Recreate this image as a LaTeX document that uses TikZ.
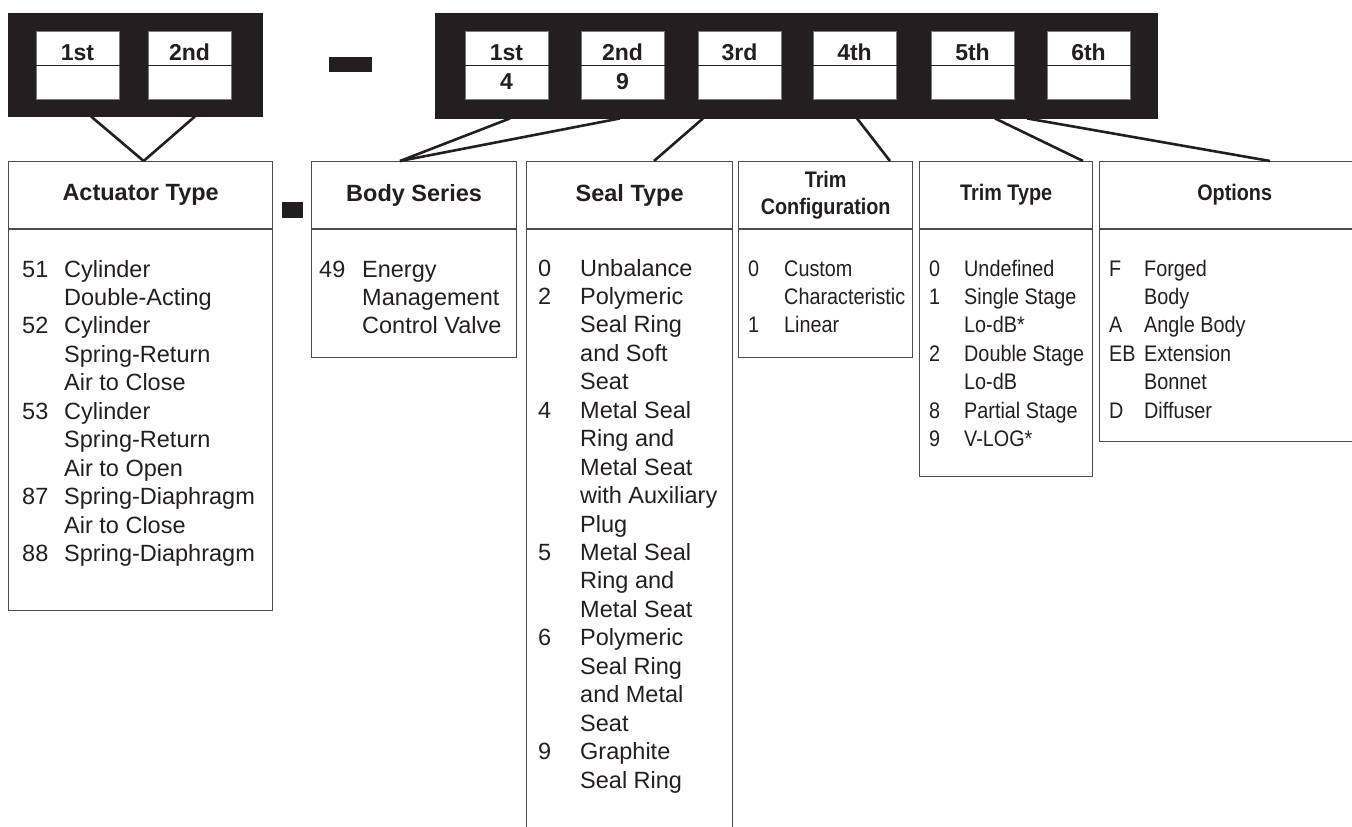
\documentclass[tikz,border=0pt]{standalone}
\usepackage{fontspec}
\usepackage{array}
\setmainfont{Liberation Sans}
\newfontfamily\slimfont{Liberation Sans}[FakeStretch=0.88]
\definecolor{ink}{RGB}{35,31,32}

\begin{document}
\begin{tikzpicture}[x=1pt,y=-1pt,
  every node/.style={text=ink, inner sep=0pt},
  codebar/.style={fill=ink, draw=ink, anchor=north west},
  cell/.style={fill=white, draw=ink!60, line width=0.8pt, minimum width=83pt, minimum height=68pt, anchor=north west},
  celltext/.style={font=\fontsize{23}{27}\selectfont\bfseries, anchor=base},
  listbox/.style={draw=ink!80, line width=1.3pt, anchor=north west},
  rule/.style={draw=ink!80, line width=1.3pt},
  title/.style={font=\fontsize{23.5}{27}\selectfont\bfseries, align=center},
  slimtitle/.style={font=\slimfont\fontsize{22.5}{27}\selectfont\bfseries, align=center},
  entries/.style={font=\fontsize{23.5}{28.45}\selectfont, anchor=base west},
  slimentries/.style={font=\slimfont\fontsize{22.5}{28.45}\selectfont, anchor=base west},
  link/.style={draw=ink, line width=2.6pt}]
\useasboundingbox (0,0) rectangle (1352,827);

% Code blocks
\node[codebar, minimum width=254pt, minimum height=103pt] (lhs) at (8,13) {};
\node[codebar, minimum width=722pt, minimum height=105pt] (rhs) at (435,13) {};
\node[codebar, minimum width=42pt, minimum height=14pt] (dash1) at (329,57) {};
\node[codebar, minimum width=20pt, minimum height=15pt] (dash2) at (282,202) {};

\foreach \x/\lab [count=\i] in {36/1st, 148/2nd} {
  \node[cell] (l\i) at (\x,31) {};
  \draw[ink, line width=1.2pt] (l\i.west) -- (l\i.east);
  \node[celltext] (l\i-top) at (\x+41.5,60) {\lab};
}
\foreach \x/\lab/\val [count=\i] in {465/1st/4, 581/2nd/9, 698/3rd/{}, 813/4th/{}, 931/5th/{}, 1047/6th/{}} {
  \node[cell] (r\i) at (\x,31) {};
  \draw[ink, line width=1.2pt] (r\i.west) -- (r\i.east);
  \node[celltext] (r\i-top) at (\x+41.5,60) {\lab};
  \node[celltext] (r\i-bot) at (\x+41.5,89) {\val};
}

% Boxes
\node[listbox, minimum width=264pt, minimum height=449pt] (act) at (8,161) {};
\node[listbox, minimum width=205pt, minimum height=196pt] (body) at (311,161) {};
\node[listbox, minimum width=206pt, minimum height=690pt] (seal) at (526,161) {};
\node[listbox, minimum width=174pt, minimum height=196pt] (trimc) at (738,161) {};
\node[listbox, minimum width=173pt, minimum height=315pt] (trimt) at (919,161) {};
\node[listbox, minimum width=270pt, minimum height=280pt] (opts) at (1099,161) {};

\foreach \b in {act, body, seal, trimc, trimt, opts}
  \draw[rule] ([yshift=-68pt]\b.north west) -- ([yshift=-68pt]\b.north east);

\node[title] (act-title) at ([yshift=-34pt]act.north) {Actuator Type};
\node[title] (body-title) at ([yshift=-34pt]body.north) {Body Series};
\node[title] (seal-title) at ([yshift=-34pt]seal.north) {Seal Type};
\node[slimtitle] (trimc-title) at ([yshift=-34pt]trimc.north) {Trim\\Configuration};
\node[slimtitle] (trimt-title) at ([yshift=-34pt]trimt.north) {Trim Type};
\node[slimtitle] (opts-title) at ([yshift=-34pt]opts.north) {Options};

% Entries
\node[entries] (act-list) at (22,277) {\begin{tabular}[t]{@{}p{42pt}@{}l@{}}
51 & Cylinder\\ & Double-Acting\\
52 & Cylinder\\ & Spring-Return\\ & Air to Close\\
53 & Cylinder\\ & Spring-Return\\ & Air to Open\\
87 & Spring-Diaphragm\\ & Air to Close\\
88 & Spring-Diaphragm
\end{tabular}};
\node[entries] (body-list) at (319,277) {\begin{tabular}[t]{@{}p{43pt}@{}l@{}}
49 & Energy\\ & Management\\ & Control Valve
\end{tabular}};
\node[entries] (seal-list) at (538,276) {\begin{tabular}[t]{@{}p{42pt}@{}l@{}}
0 & Unbalance\\
2 & Polymeric\\ & Seal Ring\\ & and Soft\\ & Seat\\
4 & Metal Seal\\ & Ring and\\ & Metal Seat\\ & with Auxiliary\\ & Plug\\
5 & Metal Seal\\ & Ring and\\ & Metal Seat\\
6 & Polymeric\\ & Seal Ring\\ & and Metal\\ & Seat\\
9 & Graphite\\ & Seal Ring
\end{tabular}};
\node[slimentries] (trimc-list) at (748,276) {\begin{tabular}[t]{@{}p{36pt}@{}l@{}}
0 & Custom\\ & Characteristic\\
1 & Linear
\end{tabular}};
\node[slimentries] (trimt-list) at (929,276) {\begin{tabular}[t]{@{}p{35pt}@{}l@{}}
0 & Undefined\\
1 & Single Stage\\ & Lo-dB*\\
2 & Double Stage\\ & Lo-dB\\
8 & Partial Stage\\
9 & V-LOG*
\end{tabular}};
\node[slimentries] (opts-list) at (1109,276) {\begin{tabular}[t]{@{}p{35pt}@{}l@{}}
F & Forged\\ & Body\\
A & Angle Body\\
EB & Extension\\ & Bonnet\\
D & Diffuser
\end{tabular}};

% Connectors
\draw[link] ([xshift=83pt]lhs.south west) -- ([xshift=3pt]act.north);
\draw[link] ([xshift=187pt]lhs.south west) -- ([xshift=3pt]act.north);
\draw[link] ([xshift=75pt]rhs.south west) -- ([xshift=89pt]body.north west);
\draw[link] ([xshift=185pt]rhs.south west) -- ([xshift=89pt]body.north west);
\draw[link] ([xshift=268pt]rhs.south west) -- ([xshift=128pt]seal.north west);
\draw[link] ([xshift=422pt]rhs.south west) -- ([xshift=152pt]trimc.north west);
\draw[link] ([xshift=560pt]rhs.south west) -- ([xshift=164pt]trimt.north west);
\draw[link] ([xshift=592pt]rhs.south west) -- ([xshift=171pt]opts.north west);

\end{tikzpicture}
\end{document}
